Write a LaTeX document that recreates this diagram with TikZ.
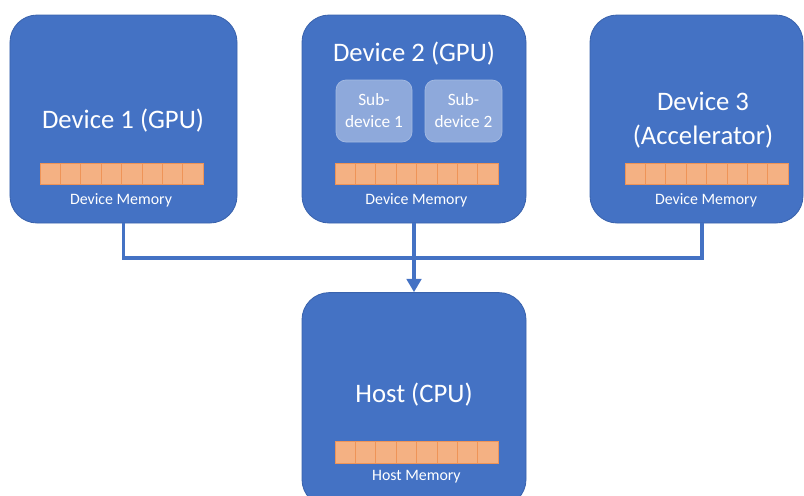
\documentclass[tikz,border=0pt]{standalone}
\usepackage{fontspec}
\setmainfont{Carlito}
\usetikzlibrary{positioning}
\usetikzlibrary{arrows.meta}
\definecolor{devblue}{HTML}{4472C4}
\definecolor{devedge}{HTML}{3A63AD}
\definecolor{subblue}{HTML}{8EA9DB}
\definecolor{subedge}{HTML}{A4BAE2}
\definecolor{cellfill}{HTML}{F4B183}
\definecolor{celledge}{HTML}{EE9458}

\tikzset{
  unitbox/.style={draw=devedge, fill=devblue, line width=0.6pt, rounded corners=0.68cm, minimum height=5.2cm},
  subbox/.style={draw=subedge, fill=subblue, line width=0.5pt, rounded corners=0.25cm, minimum width=1.9cm, minimum height=1.55cm, text=white, align=center, font=\fontsize{12.3}{15.6}\selectfont},
  cell/.style={draw=celledge, fill=cellfill, line width=0.5pt, minimum width=0.51cm, minimum height=0.54cm, inner sep=0pt},
  title/.style={text=white, align=center, font=\fontsize{19}{24}\selectfont},
  memlabel/.style={text=white, font=\fontsize{11.3}{13}\selectfont},
  link/.style={draw=devblue, line width=2.8pt},
}

\begin{document}
\begin{tikzpicture}
    \useasboundingbox (0,0) rectangle (20.1,-12.375);

    % Boxes
    \node at (3.0875,-2.975) (dev1) [unitbox, minimum width=5.675cm] {};
    \node at (10.35,-2.975) (dev2) [unitbox, minimum width=5.6cm] {};
    \node at (17.4125,-2.975) (dev3) [unitbox, minimum width=5.325cm] {};
    \node at (10.35,-9.99) (host) [unitbox, minimum width=5.6cm, minimum height=5.35cm] {};

    % Titles
    \node at (3.075,-3.025) (t1) [title] {Device 1 (GPU)};
    \node at (10.35,-1.35) (t2) [title] {Device 2 (GPU)};
    \node at (17.575,-3.0) (t3) [title] {Device 3\\(Accelerator)};
    \node at (10.35,-9.875) (th) [title] {Host (CPU)};

    % Sub-devices
    \node at (9.35,-2.775) (sub1) [subbox] {Sub-\\device 1};
    \node at (11.5875,-2.775) (sub2) [subbox, minimum width=1.925cm] {Sub-\\device 2};

    % Memory
    \foreach \bx/\by/\nm in {1.0/-4.35/a, 8.375/-4.35/b, 15.625/-4.35/c, 8.375/-11.31/h}
        \foreach \i in {0,...,7}
            \node at ({\bx+(\i+0.5)*0.51},\by) (mem\nm\i) [cell] {};

    \node at (3.025,-5.0) (ml1) [memlabel] {Device Memory};
    \node at (10.41,-5.0) (ml2) [memlabel] {Device Memory};
    \node at (17.65,-5.0) (ml3) [memlabel] {Device Memory};
    \node at (10.41,-11.925) (mlh) [memlabel] {Host Memory};

    % Arrows
    \coordinate (bus) at (10.35,-6.45);
    \draw[link] (dev1.south) |- (bus) -| ([xshift=0.14cm]dev3.south);
    \draw[link] (dev2.south) -- (bus);
    \draw[link, -{Triangle[width=0.36cm, length=0.33cm]}] (bus) -- (host.north);

\end{tikzpicture}
\end{document}
